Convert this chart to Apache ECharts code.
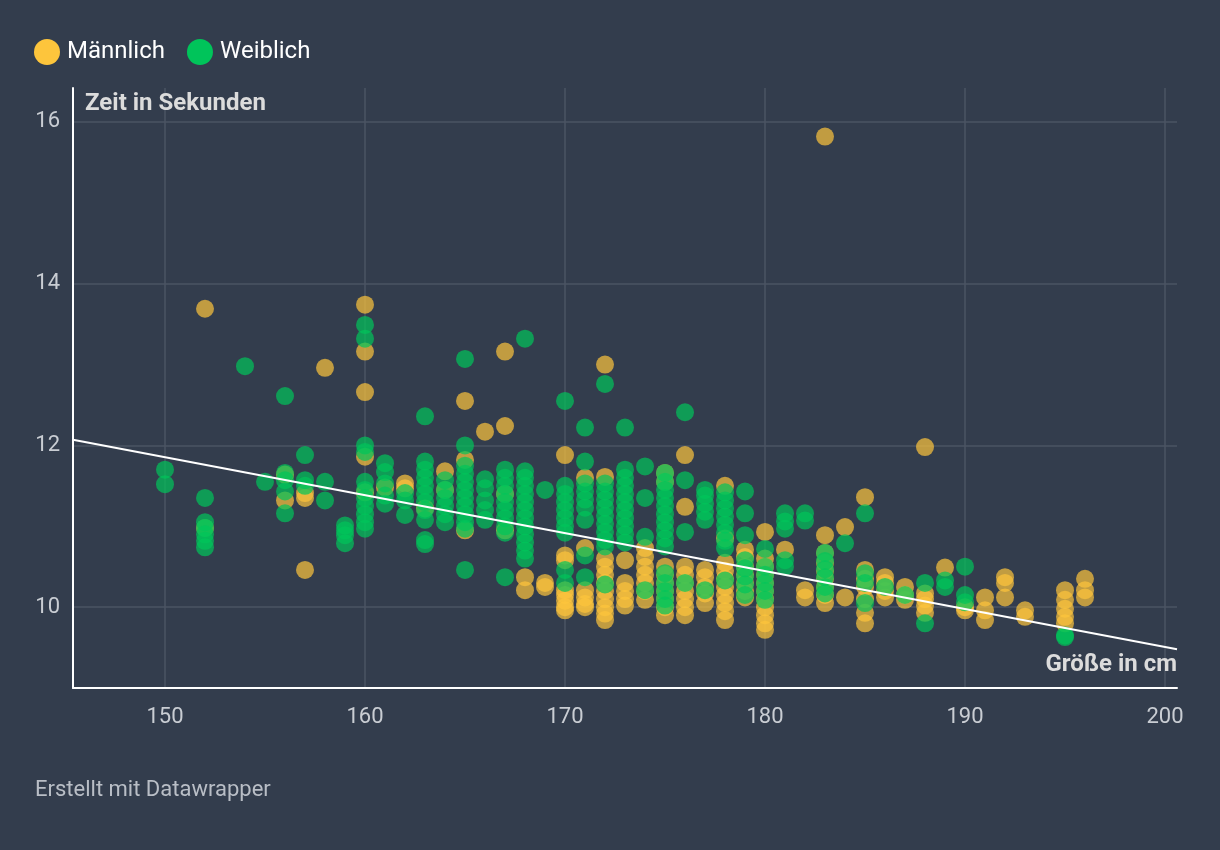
<!DOCTYPE html>
<html>
<head>
<meta charset="utf-8">
<script src="https://cdn.jsdelivr.net/npm/echarts@6/dist/echarts.min.js"></script>
<style>
html,body{margin:0;padding:0;background:#333d4d;}
#chart{width:1220px;height:850px;}
</style>
</head>
<body>
<div id="chart"></div>
<script>
// Height (cm) -> list of times (s)
const maleByHeight = {
  152: [13.69, 10.98],
  156: [11.64, 11.32],
  157: [10.46, 11.41, 11.35],
  158: [12.96],
  160: [13.74, 13.16, 12.66, 11.86, 11.42],
  161: [11.48],
  162: [11.53, 11.47],
  163: [11.22],
  164: [11.68, 11.45],
  165: [12.55, 11.82, 10.95],
  166: [12.17],
  167: [13.16, 12.24, 11.40, 10.95],
  168: [10.37, 10.21],
  169: [10.30, 10.25],
  170: [11.88, 10.64, 10.58, 10.21, 10.15, 10.08, 10.00, 9.96],
  171: [11.60, 10.73, 10.21, 10.12, 10.04, 10.00],
  172: [13.00, 11.61, 10.60, 10.50, 10.40, 10.30, 10.20, 10.10, 10.00, 9.92, 9.84],
  173: [10.58, 10.30, 10.20, 10.10, 10.02],
  174: [10.73, 10.62, 10.50, 10.40, 10.30, 10.20, 10.09],
  175: [11.66, 11.55, 10.50, 10.40, 10.30, 10.20, 10.10, 10.00, 9.90],
  176: [11.88, 11.24, 10.50, 10.40, 10.30, 10.20, 10.10, 10.00, 9.90],
  177: [10.46, 10.37, 10.25, 10.17, 10.05],
  178: [11.50, 10.85, 10.55, 10.45, 10.35, 10.25, 10.15, 10.05, 9.95, 9.84],
  179: [10.71, 10.62, 10.50, 10.40, 10.30, 10.20, 10.12],
  180: [10.93, 10.60, 10.50, 10.40, 10.30, 10.20, 10.10, 10.00, 9.90, 9.80, 9.72],
  181: [10.71],
  182: [10.21, 10.12],
  183: [15.82, 10.89, 10.67, 10.55, 10.45, 10.35, 10.25, 10.15, 10.05],
  184: [10.99, 10.12],
  185: [11.36, 10.46, 10.35, 10.25, 10.10, 9.93, 9.80],
  186: [10.37, 10.30, 10.20, 10.12],
  187: [10.25, 10.15, 10.09],
  188: [11.98, 10.17, 10.10, 10.02, 9.93],
  189: [10.49],
  190: [10.00, 9.96],
  191: [10.12, 9.96, 9.84],
  192: [10.37, 10.30, 10.12],
  193: [9.96, 9.88],
  195: [10.21, 10.09, 9.98, 9.88, 9.80],
  196: [10.35, 10.21, 10.12]
};

const femaleByHeight = {
  150: [11.70, 11.52],
  152: [11.35, 11.05, 10.98, 10.90, 10.82, 10.74],
  154: [12.98],
  155: [11.55],
  156: [12.61, 11.66, 11.57, 11.43, 11.16],
  157: [11.88, 11.57, 11.50],
  158: [11.55, 11.32],
  159: [11.01, 10.95, 10.89, 10.79],
  160: [13.49, 13.32, 12.00, 11.92, 11.55, 11.45, 11.35, 11.25, 11.15, 11.05, 10.97],
  161: [11.78, 11.67, 11.53, 11.38, 11.28],
  162: [11.41, 11.32, 11.14],
  163: [12.36, 11.80, 11.70, 11.60, 11.50, 11.40, 11.30, 11.20, 11.08, 10.83, 10.78],
  164: [11.57, 11.45, 11.35, 11.25, 11.15, 11.05],
  165: [13.07, 12.00, 11.75, 11.65, 11.55, 11.45, 11.35, 11.25, 11.15, 11.05, 10.97, 10.46],
  166: [11.58, 11.47, 11.32, 11.20, 11.08],
  167: [11.70, 11.60, 11.50, 11.40, 11.30, 11.20, 11.10, 11.00, 10.92, 10.37],
  168: [13.32, 11.68, 11.60, 11.50, 11.40, 11.30, 11.20, 11.10, 11.00, 10.90, 10.80, 10.70, 10.60],
  169: [11.45],
  170: [12.55, 11.50, 11.40, 11.30, 11.20, 11.10, 11.00, 10.92, 10.46, 10.30],
  171: [12.22, 11.80, 11.53, 11.43, 11.33, 11.23, 11.08, 10.64, 10.37],
  172: [12.76, 11.53, 11.43, 11.33, 11.23, 11.13, 11.03, 10.93, 10.83, 10.75, 10.28],
  173: [12.22, 11.70, 11.60, 11.50, 11.40, 11.30, 11.20, 11.10, 11.00, 10.90, 10.80],
  174: [11.74, 11.35, 10.87, 10.21],
  175: [11.66, 11.55, 11.45, 11.35, 11.25, 11.15, 11.05, 10.95, 10.85, 10.75, 10.42, 10.30, 10.20, 10.10, 10.02],
  176: [12.41, 11.57, 10.93, 10.30],
  177: [11.45, 11.38, 11.28, 11.18, 11.08, 10.21],
  178: [11.42, 11.32, 11.22, 11.12, 11.02, 10.92, 10.82, 10.73, 10.33],
  179: [11.43, 11.16, 10.89, 10.58, 10.48, 10.38, 10.28, 10.15],
  180: [10.72, 10.50, 10.40, 10.30, 10.20, 10.09],
  181: [11.16, 11.06, 10.97, 10.58, 10.50],
  182: [11.16, 11.07],
  183: [10.67, 10.57, 10.47, 10.37, 10.25, 10.17],
  184: [10.79],
  185: [11.16, 10.42, 10.30, 10.05],
  186: [10.25],
  187: [10.15],
  188: [10.30, 9.80],
  189: [10.33, 10.25],
  190: [10.50, 10.15, 10.06],
  195: [9.65, 9.63]
};

// regression line endpoints
const trendX = [145.4, 200.6];
const trendY = [12.07, 9.48];

const xRange = [145.4, 200.6];
const yRange = [9.0, 16.42];

const seriesNames = ['Männlich', 'Weiblich'];
const seriesColors = ['#fdc53c', '#00c45a'];

function toPairs(obj) {
  const out = [];
  Object.keys(obj).forEach(function (h) {
    obj[h].forEach(function (t) { out.push([Number(h), t]); });
  });
  return out;
}

const chart = echarts.init(document.getElementById('chart'));
const fontFamily = 'Roboto, "Noto Sans", sans-serif';

chart.setOption({
  backgroundColor: '#333d4d',
  animation: false,
  textStyle: { fontFamily: fontFamily },
  legend: {
    left: 29,
    top: 34,
    icon: 'circle',
    itemWidth: 26,
    itemHeight: 26,
    itemGap: 22,
    textStyle: { color: '#ffffff', fontSize: 24, fontFamily: fontFamily, padding: [0, 0, 0, 2] },
    data: seriesNames.map(function (n, i) { return { name: n, itemStyle: { color: seriesColors[i], opacity: 1 } }; })
  },
  grid: { left: 73, right: 43, top: 88, bottom: 162, containLabel: false },
  xAxis: {
    type: 'value',
    min: xRange[0],
    max: xRange[1],
    splitNumber: 5,
    axisLine: { show: true, lineStyle: { color: '#ffffff', width: 2 } },
    axisTick: { show: false },
    axisLabel: { color: '#c9cdd3', fontSize: 22, margin: 18, showMinLabel: false, showMaxLabel: false },
    splitLine: { show: true, showMinLine: false, showMaxLine: false, lineStyle: { color: '#4b5463', width: 1.5 } }
  },
  yAxis: {
    type: 'value',
    min: yRange[0],
    max: yRange[1],
    splitNumber: 3,
    axisLine: { show: true, lineStyle: { color: '#ffffff', width: 2 } },
    axisTick: { show: false },
    axisLabel: { color: '#c9cdd3', fontSize: 22, margin: 13, showMinLabel: false, showMaxLabel: false },
    splitLine: { show: true, showMinLine: false, showMaxLine: false, lineStyle: { color: '#4b5463', width: 1.5 } }
  },
  series: [
    {
      name: seriesNames[0],
      type: 'scatter',
      symbolSize: 18,
      itemStyle: { color: seriesColors[0], opacity: 0.7 },
      emphasis: { disabled: true },
      data: toPairs(maleByHeight),
      z: 2
    },
    {
      name: seriesNames[1],
      type: 'scatter',
      symbolSize: 18,
      itemStyle: { color: seriesColors[1], opacity: 0.7 },
      emphasis: { disabled: true },
      data: toPairs(femaleByHeight),
      z: 3
    },
    {
      name: 'Trend',
      type: 'line',
      data: trendX.map(function (x, i) { return [x, trendY[i]]; }),
      showSymbol: false,
      symbol: 'none',
      lineStyle: { color: '#ffffff', width: 2 },
      silent: true,
      z: 5
    }
  ],
  graphic: [
    {
      type: 'text', left: 85, top: 92, z: 10,
      style: { text: 'Zeit in Sekunden', fill: '#dcdcdc', font: 'bold 24px ' + fontFamily,
        shadowColor: 'rgba(0,0,0,0.6)', shadowBlur: 6 }
    },
    {
      type: 'text', right: 43, top: 653, z: 10,
      style: { text: 'Größe in cm', fill: '#dcdcdc', font: 'bold 24px ' + fontFamily,
        shadowColor: 'rgba(0,0,0,0.6)', shadowBlur: 6 }
    },
    {
      type: 'text', left: 35, top: 779,
      style: { text: 'Erstellt mit Datawrapper', fill: '#b9bec6', font: '22px ' + fontFamily }
    }
  ]
});
</script>
</body>
</html>
